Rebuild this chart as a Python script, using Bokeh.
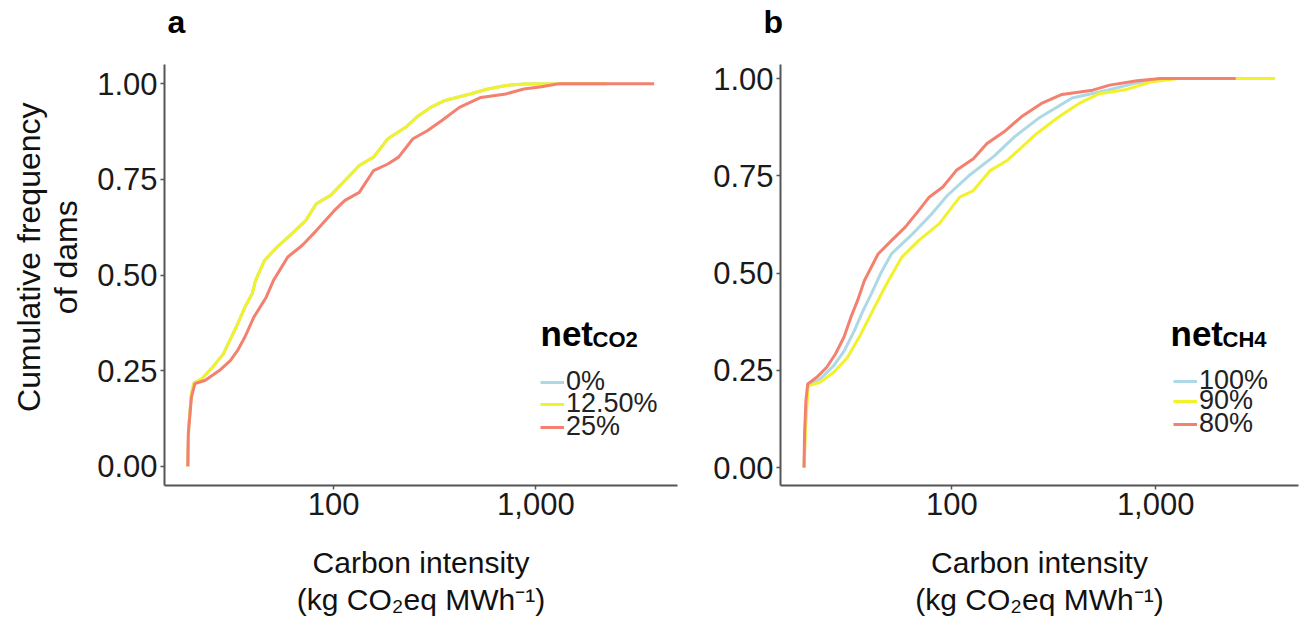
import numpy as np
from bokeh.plotting import figure
from bokeh.models import (Range1d, FixedTicker, NumeralTickFormatter, Legend,
                          LegendItem, Label, Title)
from bokeh.layouts import row
from bokeh.embed import file_html
from bokeh.resources import INLINE

FONT = "Liberation Sans"
NBSP = "\u00a0"

# ---------------- Panel a : net CO2 ----------------
a_labels = ["0%", "12.50%", "25%"]
a_colors = ["#add8e6", "#f2f22c", "#f4806f"]

# 0% and 12.50% curves are visually identical in the figure
a0_x = [19.0, 19.2, 19.8, 20.4, 22.3, 25.2, 28.5, 30.9, 33.5, 36.4, 39.5, 41.1,
        45.5, 52.5, 61.8, 72.7, 82.1, 96.6, 113.7, 133.9, 157.5, 185.4, 227.2,
        256.6, 301.8, 355.3, 472.9, 579.6, 710.2, 871, 1309, 2250]
a0_y = [0, 0.103, 0.19, 0.218, 0.229, 0.259, 0.294, 0.333, 0.372, 0.416, 0.451,
        0.486, 0.538, 0.573, 0.607, 0.642, 0.686, 0.708, 0.747, 0.786, 0.808,
        0.856, 0.886, 0.912, 0.938, 0.956, 0.973, 0.986, 0.995, 0.999, 1.0, 1.0]
a125_x = list(a0_x)
a125_y = list(a0_y)
a25_x = [19.0, 19.1, 19.8, 20.6, 23.2, 27.3, 30.9, 33.5, 36.4, 40.3, 46.4, 50.4,
         59.3, 69.8, 82.1, 100.6, 113.7, 133.9, 157.5, 185.4, 209.4, 246.6,
         290.4, 341.5, 418.6, 534.6, 710.2, 871, 1067, 1309, 3846]
a25_y = [0, 0.085, 0.181, 0.216, 0.225, 0.251, 0.277, 0.303, 0.338, 0.390,
         0.442, 0.486, 0.547, 0.577, 0.616, 0.668, 0.695, 0.716, 0.773, 0.790,
         0.808, 0.856, 0.877, 0.903, 0.938, 0.964, 0.973, 0.986, 0.992, 1.0, 1.0]

# ---------------- Panel b : net CH4 ----------------
b_labels = ["100%", "90%", "80%"]
b_colors = ["#add8e6", "#f2f22c", "#f4806f"]

b100_x = [18.8, 19.2, 19.6, 22.5, 26.3, 29.6, 33.2, 36.4, 40.3, 44.8, 50.6,
          63.9, 78.9, 95.2, 121.0, 160.6, 202.7, 270.0, 389.0, 579.0, 824.0,
          1059, 3000]
b100_y = [0, 0.137, 0.210, 0.227, 0.262, 0.300, 0.352, 0.400, 0.448, 0.500,
          0.550, 0.600, 0.650, 0.700, 0.750, 0.800, 0.850, 0.900, 0.950, 0.970,
          0.990, 1.0, 1.0]
b90_x = [18.8, 19.2, 19.7, 22.5, 26.3, 30.7, 35.7, 40.1, 46.9, 56.8, 68.8, 86.7,
         109.2, 127.4, 154.5, 187.5, 254.4, 333.7, 420.7, 529.6, 721.1, 944,
         1285, 3850]
b90_y = [0, 0.120, 0.210, 0.219, 0.245, 0.283, 0.343, 0.395, 0.464, 0.541,
         0.584, 0.627, 0.695, 0.712, 0.764, 0.790, 0.854, 0.901, 0.936, 0.961,
         0.972, 0.991, 1.0, 1.0]
b80_x = [18.8, 18.9, 19.2, 19.6, 21.7, 24.3, 26.8, 29.5, 31.9, 34.4, 37.2, 43.4,
         50.6, 59.0, 68.8, 77.3, 90.2, 105.2, 127.4, 148.6, 180.2, 218.4, 275.1,
         346.7, 490.6, 594.2, 808.8, 1059, 2471]
b80_y = [0, 0.086, 0.172, 0.215, 0.232, 0.258, 0.292, 0.335, 0.386, 0.429,
         0.481, 0.549, 0.584, 0.618, 0.661, 0.695, 0.721, 0.764, 0.794, 0.833,
         0.863, 0.901, 0.936, 0.959, 0.970, 0.983, 0.994, 1.0, 1.0]

x_ticks = [100, 1000]
y_ticks = [0, 0.25, 0.5, 0.75, 1.0]
y_title_lines = ["Cumulative frequency", "of dams"]
x_title = "Carbon intensity\n(kg CO\u2082eq MWh\u207b\u00b9)"


def log_range(xs_list):
    allx = np.concatenate([np.asarray(v, dtype=float) for v in xs_list])
    lo, hi = np.log10(allx.min()), np.log10(allx.max())
    pad = 0.05 * (hi - lo)
    return Range1d(10 ** (lo - pad), 10 ** (hi + pad))


def make_panel(series, labels, colors, width, border_left, border_right,
               y_span, ylabel, letter, letter_offset, title_main, title_sub,
               title_x, legend_x, legend_rows):
    p = figure(width=width, height=620, x_axis_type="log",
               x_range=log_range([s[0] for s in series]),
               y_range=Range1d(*y_span),
               output_backend="svg", toolbar_location=None,
               min_border_left=border_left, min_border_right=border_right,
               min_border_top=64, min_border_bottom=135)
    p.outline_line_color = None
    p.xgrid.visible = False
    p.ygrid.visible = False
    p.background_fill_color = "white"
    p.border_fill_color = "white"

    # panel letter (outer) and an invisible spacer between it and the frame
    p.title.text = letter
    p.title.text_font = FONT
    p.title.text_font_style = "bold"
    p.title.text_font_size = "32px"
    p.title.text_color = "black"
    p.title.align = "left"
    p.title.offset = letter_offset
    p.title.vertical_align = "bottom"
    p.title.standoff = 0
    p.add_layout(Title(text=" ", text_font_size="20px", standoff=1), "above")

    rends = []
    for (xs, ys), col in zip(series, colors):
        rends.append(p.line(xs, ys, line_color=col, line_width=3))

    for ax in (p.xaxis[0], p.yaxis[0]):
        ax.axis_line_color = "#555555"
        ax.axis_line_width = 2
        ax.major_tick_line_color = "#555555"
        ax.major_tick_line_width = 1.5
        ax.major_tick_out = 4
        ax.major_tick_in = 0
        ax.minor_tick_line_color = None
        ax.major_label_text_font = FONT
        ax.major_label_text_font_size = "31px"
        ax.major_label_text_color = "#1a1a1a"
        ax.major_label_standoff = 3
        ax.axis_label_text_font = FONT
        ax.axis_label_text_font_style = "normal"
        ax.axis_label_text_color = "#111111"

    p.xaxis.ticker = FixedTicker(ticks=x_ticks, minor_ticks=[])
    p.xaxis.formatter = NumeralTickFormatter(format="0,0")
    p.yaxis.ticker = FixedTicker(ticks=y_ticks, minor_ticks=[])
    p.yaxis.formatter = NumeralTickFormatter(format="0.00")
    p.xaxis.axis_label = x_title
    p.xaxis.axis_label_text_font_size = "30px"
    p.xaxis.axis_label_standoff = 28
    p.xaxis.axis_label_text_line_height = 1.15

    if ylabel:
        # leading no-break spaces lift the centred label a little, as in the original
        p.yaxis.axis_label = "\n".join(NBSP * 4 + s for s in ylabel)
        p.yaxis.axis_label_text_font_size = "32px"
        p.yaxis.axis_label_standoff = 10
        p.yaxis.axis_label_text_line_height = 1.03

    # one single-item legend per row, for the tight row spacing of the original
    for r, lab, ry in zip(rends, labels, legend_rows):
        lg = Legend(items=[LegendItem(label=lab, renderers=[r])],
                    location=(legend_x, ry),
                    label_text_font=FONT, label_text_font_size="27px",
                    label_text_color="#222222",
                    glyph_width=24, glyph_height=22, label_height=22,
                    label_standoff=2, spacing=0, padding=0, margin=0,
                    border_line_color=None, background_fill_alpha=0)
        p.add_layout(lg)

    p.add_layout(Label(x=title_x, y=152, x_units="screen", y_units="screen",
                       text=title_main, text_font=FONT, text_font_style="bold",
                       text_font_size="35px", text_color="black",
                       text_baseline="alphabetic"))
    p.add_layout(Label(x=title_x + 52, y=146, x_units="screen", y_units="screen",
                       text=title_sub, text_font=FONT, text_font_style="bold",
                       text_font_size="22px", text_color="black",
                       text_baseline="alphabetic"))
    return p


pa = make_panel([(a0_x, a0_y), (a125_x, a125_y), (a25_x, a25_y)],
                a_labels, a_colors, width=700, border_left=164, border_right=23,
                y_span=(-0.05, 1.05), ylabel=y_title_lines,
                letter="a", letter_offset=3,
                title_main="net", title_sub="CO2", title_x=376, legend_x=376,
                legend_rows=[88, 66, 43])
pb = make_panel([(b100_x, b100_y), (b90_x, b90_y), (b80_x, b80_y)],
                b_labels, b_colors, width=604, border_left=80, border_right=6,
                y_span=(-0.046, 1.036), ylabel=None,
                letter="b", letter_offset=-17,
                title_main="net", title_sub="CH4", title_x=390, legend_x=393,
                legend_rows=[89, 69, 46])

layout = row(pa, pb)
open("out.html", "w").write(file_html(layout, INLINE))
